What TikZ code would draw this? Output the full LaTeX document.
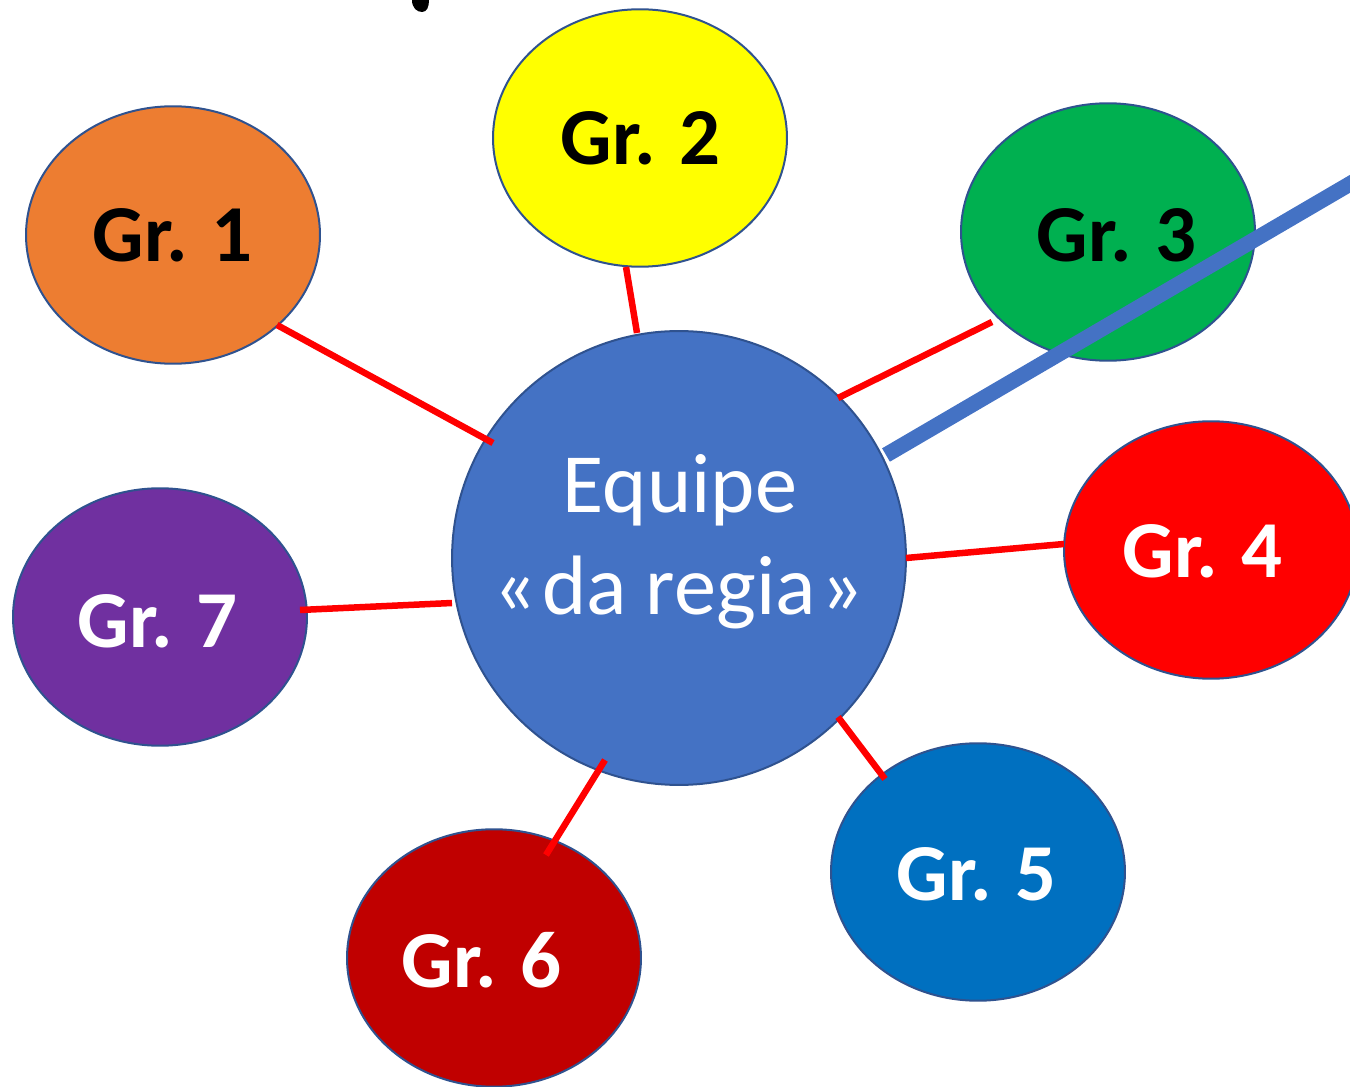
\documentclass[tikz,border=0pt]{standalone}
\usepackage{fontspec}
\setmainfont{Carlito}
\usetikzlibrary{shapes.geometric}
\definecolor{cOrange}{HTML}{ED7D31}
\definecolor{cYellow}{HTML}{FFFF00}
\definecolor{cGreen}{HTML}{00B050}
\definecolor{cRed}{HTML}{FF0000}
\definecolor{cBlue}{HTML}{0070C0}
\definecolor{cDarkRed}{HTML}{C00000}
\definecolor{cPurple}{HTML}{7030A0}
\definecolor{cCenter}{HTML}{4472C4}
\definecolor{cOutline}{HTML}{2F528F}
\tikzset{
  grp/.style={ellipse, draw=cOutline, line width=0.04cm, inner sep=0pt,
    minimum width=5.88cm, minimum height=5.15cm},
  grlabel/.style={anchor=base, inner sep=0pt, font=\fontsize{46}{55}\selectfont\bfseries},
  ctext/.style={anchor=base, inner sep=0pt, text=white, font=\fontsize{48}{55}\selectfont},
  link/.style={draw=cRed, line width=0.13cm},
  bigline/.style={draw=cCenter, line width=0.31cm}
}
\begin{document}
\begin{tikzpicture}[x=0.02cm,y=-0.02cm]
\useasboundingbox (0,0) rectangle (1350,1087);
\clip (0,0) rectangle (1350,1087);
% partial glyph at top
\fill[black] (412,0) .. controls (412,8) and (417,12) .. (422,12) .. controls (427,12) and (429,7) .. (429,0) -- cycle;
% groups
\node[grp, fill=cOrange] (g1) at (173,235) {};
\node[grp, fill=cYellow] (g2) at (640,138) {};
\node[grp, fill=cGreen] (g3) at (1108,232) {};
\node[grp, fill=cRed] (g4) at (1211,550) {};
\node[grp, fill=cBlue] (g5) at (978,872) {};
\node[grp, fill=cDarkRed] (g6) at (494,958) {};
\node[grp, fill=cPurple] (g7) at (160,617) {};
\node[circle, draw=cOutline, line width=0.04cm, fill=cCenter, inner sep=0pt, minimum size=9.08cm] (c) at (679,558) {};
% labels
\node[grlabel, text=black] (t1) at (173,262) {Gr. 1};
\node[grlabel, text=black] (t2) at (641,165) {Gr. 2};
\node[grlabel, text=black] (t3) at (1117,262) {Gr. 3};
\node[grlabel, text=white] (t4) at (1203,578) {Gr. 4};
\node[grlabel, text=white] (t5) at (977,900) {Gr. 5};
\node[grlabel, text=white] (t6) at (482,987) {Gr. 6};
\node[grlabel, text=white] (t7) at (158,648) {Gr. 7};
\node[ctext] (e1) at (680,513) {Equipe};
\node[ctext] (e2) at (679,615) {«\kern3pt da regia\kern3pt»};
% connector endpoints
\coordinate (a1) at (277,325); \coordinate (b1) at (493,443);
\coordinate (a2) at (626,267); \coordinate (b2) at (637,333);
\coordinate (a3) at (992,322); \coordinate (b3) at (838,398);
\coordinate (a4) at (1064,544); \coordinate (b4) at (906,558);
\coordinate (a5) at (885,779); \coordinate (b5) at (838,717);
\coordinate (a6) at (546,855); \coordinate (b6) at (605,760);
\coordinate (a7) at (300,610); \coordinate (b7) at (452,603);
\draw[link] (a1) -- (b1);
\draw[link] (a2) -- (b2);
\draw[link] (a3) -- (b3);
\draw[link] (a4) -- (b4);
\draw[link] (a5) -- (b5);
\draw[link] (a6) -- (b6);
\draw[link] (a7) -- (b7);
% blue stroke
\coordinate (p1) at (886,455);
\coordinate (p2) at (1360,178);
\draw[bigline] (p1) -- (p2);
\end{tikzpicture}
\end{document}
